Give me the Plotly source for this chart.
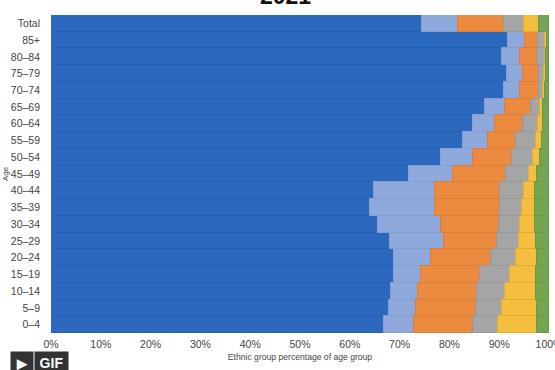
import plotly.graph_objects as go

ages = ["Total", "85+", "80–84", "75–79", "70–74", "65–69", "60–64", "55–59", "50–54", "45–49",
        "40–44", "35–39", "30–34", "25–29", "20–24", "15–19", "10–14", "5–9", "0–4"]
white_british = [74.4, 91.8, 90.6, 91.5, 91.0, 87.2, 84.8, 82.7, 78.4, 71.9,
                 64.9, 64.1, 65.7, 68.1, 68.8, 68.9, 68.3, 67.9, 66.8]
white_other = [7.3, 3.3, 3.5, 3.3, 3.2, 3.9, 4.4, 5.1, 6.4, 8.9,
               12.2, 13.1, 12.7, 10.8, 7.6, 5.3, 5.3, 5.3, 6.0]
asian = [9.3, 2.6, 3.4, 3.1, 3.7, 5.3, 5.5, 5.6, 7.7, 10.6,
         13.1, 13.0, 11.6, 10.7, 11.9, 12.0, 11.9, 12.1, 11.9]
black = [4.0, 1.4, 1.6, 1.0, 0.9, 1.8, 3.1, 4.0, 4.3, 4.5,
         4.8, 4.4, 4.2, 4.4, 5.1, 6.0, 5.7, 5.3, 5.1]
mixed = [2.9, 0.4, 0.3, 0.4, 0.4, 0.5, 0.9, 1.1, 1.4, 1.6,
         2.1, 2.5, 3.0, 3.4, 4.2, 5.2, 6.1, 6.9, 7.7]
other = [2.1, 0.5, 0.6, 0.7, 0.8, 1.3, 1.3, 1.5, 1.8, 2.5,
         2.9, 2.9, 2.8, 2.6, 2.4, 2.6, 2.7, 2.5, 2.5]
series = ["White British", "White other", "Asian", "Black", "Mixed", "Other"]
values = [white_british, white_other, asian, black, mixed, other]
colors = ["#2A69BE", "#8FA9DC", "#EC8A40", "#A5A5A5", "#F6BE3E", "#74A550"]
line_colors = ["#2560AD", "#84A0D2", "#D87F3C", "#989898", "#E0AE3A", "#6B984A"]
x_ticks = [0, 10, 20, 30, 40, 50, 60, 70, 80, 90, 100]
x_labels = [f"{t}%" for t in x_ticks]

fig = go.Figure()
for name, vals, c, lc in zip(series, values, colors, line_colors):
    fig.add_trace(go.Bar(y=ages, x=vals, name=name, orientation="h",
                         marker=dict(color=c, line=dict(color=lc, width=1))))

GREY = "#444444"
fig.update_layout(
    width=555, height=370, barmode="stack", bargap=0, showlegend=False,
    paper_bgcolor="white", plot_bgcolor="white",
    margin=dict(l=51, r=5.5, t=15, b=37),
    font=dict(family="Liberation Sans, Arial, sans-serif", size=11, color=GREY),
    xaxis=dict(range=[0, 100], tickvals=x_ticks, ticktext=x_labels, ticks="", showgrid=False,
               zeroline=False, tickfont=dict(size=10.5), automargin=False, ticklabelstandoff=3,
               ticklabeloverflow="allow",
               title=dict(text="Ethnic group percentage of age group", font=dict(size=8.6), standoff=5)),
    yaxis=dict(autorange="reversed", ticks="", showgrid=False, zeroline=False,
               tickfont=dict(size=10.5), automargin=False, ticklabelstandoff=10,
               title=dict(text="Age", font=dict(size=8), standoff=0)),
    annotations=[
        dict(text="<b>2021</b>", xref="paper", yref="paper", x=0.471, y=1.06, xanchor="center",
             yanchor="middle", showarrow=False, font=dict(size=23, color="#111111")),
        dict(text="<b>▶</b>", xref="paper", yref="paper", x=-0.058, y=-0.094, xanchor="center",
             yanchor="middle", showarrow=False, font=dict(size=13, color="white"),
             bgcolor="#333333", width=20, height=20),
        dict(text="<b>GIF</b>", xref="paper", yref="paper", x=0.001, y=-0.094, xanchor="center",
             yanchor="middle", showarrow=False, font=dict(size=14, color="white"),
             bgcolor="#333333", width=31, height=20),
    ],
)
fig.write_html("out.html", config=dict(displayModeBar=False),
               post_script="document.body.style.margin='0';document.body.style.overflow='hidden';")
